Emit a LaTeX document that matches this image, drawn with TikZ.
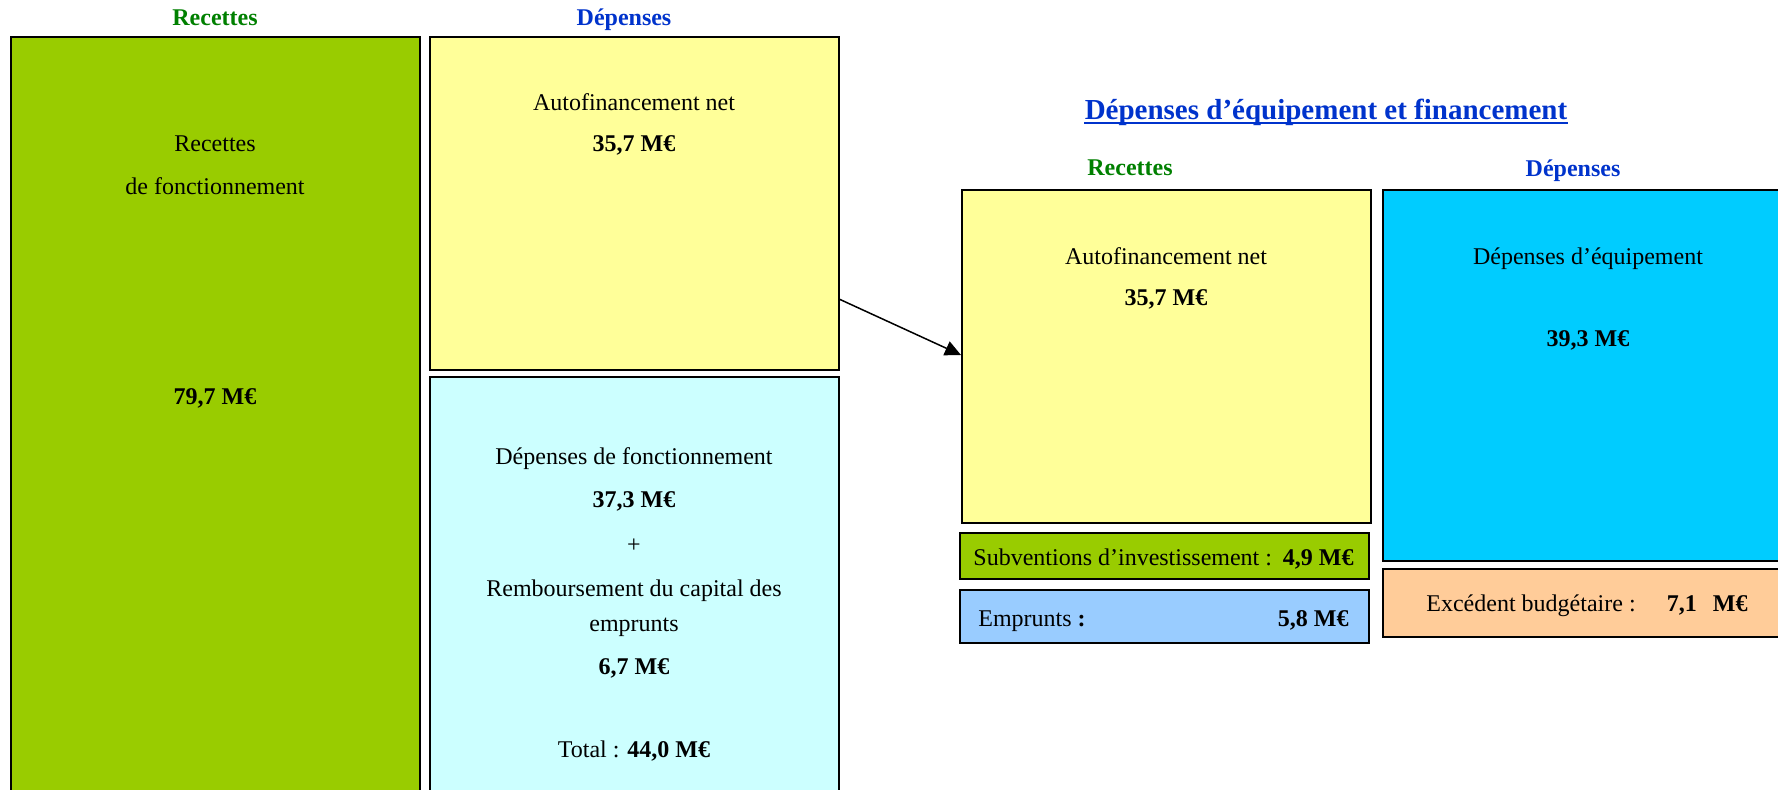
\documentclass[tikz,border=0pt]{standalone}
\usepackage{fontspec}
\setmainfont{Liberation Serif}
\usetikzlibrary{fit,arrows.meta}
\definecolor{cgreen}{HTML}{99CC00}
\definecolor{cyellow}{HTML}{FFFF99}
\definecolor{clcyan}{HTML}{CCFFFF}
\definecolor{ccyan}{HTML}{00CCFF}
\definecolor{clblue}{HTML}{99CCFF}
\definecolor{cpeach}{HTML}{FFCC99}
\definecolor{hgreen}{HTML}{008000}
\definecolor{hblue}{HTML}{0033CC}
\begin{document}
\begin{tikzpicture}[x=0.5pt,y=-0.5pt,
  box/.style={draw=black,line width=1pt,inner sep=0pt},
  txt/.style={font=\fontsize{12}{14}\selectfont,inner sep=0pt,anchor=base},
  bld/.style={txt,font=\fontsize{12}{14}\selectfont\bfseries},
  hg/.style={txt,font=\fontsize{12}{14}\selectfont\bfseries,text=hgreen},
  hb/.style={txt,font=\fontsize{12}{14}\selectfont\bfseries,text=hblue},
  ttl/.style={inner sep=0pt,font=\fontsize{14.5}{17}\selectfont\bfseries,text=hblue},
  arr/.style={line width=0.75pt,-{Triangle[length=8pt,width=7.5pt]}}]
\clip (0,0) rectangle (1778,789);
\fill[white] (0,0) rectangle (1778,789);

% boxes
\node[box,fill=cgreen,fit={(11,37) (420,800)}] (rf) {};
\node[box,fill=cyellow,fit={(430,37) (839,370)}] (af1) {};
\node[box,fill=clcyan,fit={(430,377) (839,800)}] (df) {};
\node[box,fill=cyellow,fit={(962,190) (1371,523)}] (af2) {};
\node[box,fill=ccyan,fit={(1383,190) (1800,561)}] (de) {};
\node[box,fill=cgreen,fit={(960,533) (1369,579)}] (sub) {};
\node[box,fill=clblue,fit={(960,590) (1369,643)}] (emp) {};
\node[box,fill=cpeach,fit={(1383,569) (1800,637)}] (exc) {};

% headers
\node[hg] (h1) at (215,25) {Recettes};
\node[hb] (h2) at (624,25) {Dépenses};
\node[hg] (h3) at (1130,175) {Recettes};
\node[hb] (h4) at (1573,176) {Dépenses};
\node[ttl,anchor=base] (ti) at (1326,119) {Dépenses d’équipement et financement};
\draw[hblue,line width=1pt] ([yshift=-1.9pt]ti.base west) -- ([yshift=-1.9pt]ti.base east);

% left section texts
\node[txt] (t1) at (215,151) {Recettes};
\node[txt] (t2) at (215,194) {de fonctionnement};
\node[bld] (t3) at (215,404) {79,7 M€};

\node[txt] (t4) at (634,110) {Autofinancement net};
\node[bld] (t5) at (634,151) {35,7 M€};

\node[txt] (t6) at (634,464) {Dépenses de fonctionnement};
\node[bld] (t7) at (634,507) {37,3 M€};
\node[txt] (t8) at (634,552) {+};
\node[txt] (t9) at (634,596) {Remboursement du capital des};
\node[txt] (t10) at (634,631) {emprunts};
\node[bld] (t11) at (634,674) {6,7 M€};
\node[txt] (t12) at (634,757) {Total : \textbf{44,0 M€}};

% right section texts
\node[txt] (t13) at (1166,264) {Autofinancement net};
\node[bld] (t14) at (1166,305) {35,7 M€};
\node[txt] (t15) at (1588,264) {Dépenses d’équipement};
\node[bld] (t16) at (1588,346) {39,3 M€};

\node[txt,anchor=base west] (t17) at (973,565) {Subventions d’investissement :};
\node[bld,anchor=base east] (t18) at (1354,565) {4,9 M€};
\node[txt,anchor=base west] (t19) at (978,626) {Emprunts \textbf{:}};
\node[bld,anchor=base east] (t20) at (1349,626) {5,8 M€};
\node[txt,anchor=base west] (t21) at (1426,611) {Excédent budgétaire :};
\node[bld,anchor=base east] (t22) at (1748,611) {7,1\hspace{8pt}M€};

% arrow
\coordinate (as) at (839,299);
\coordinate (ae) at (961,355);
\draw[arr] (as) -- (ae);
\end{tikzpicture}
\end{document}
